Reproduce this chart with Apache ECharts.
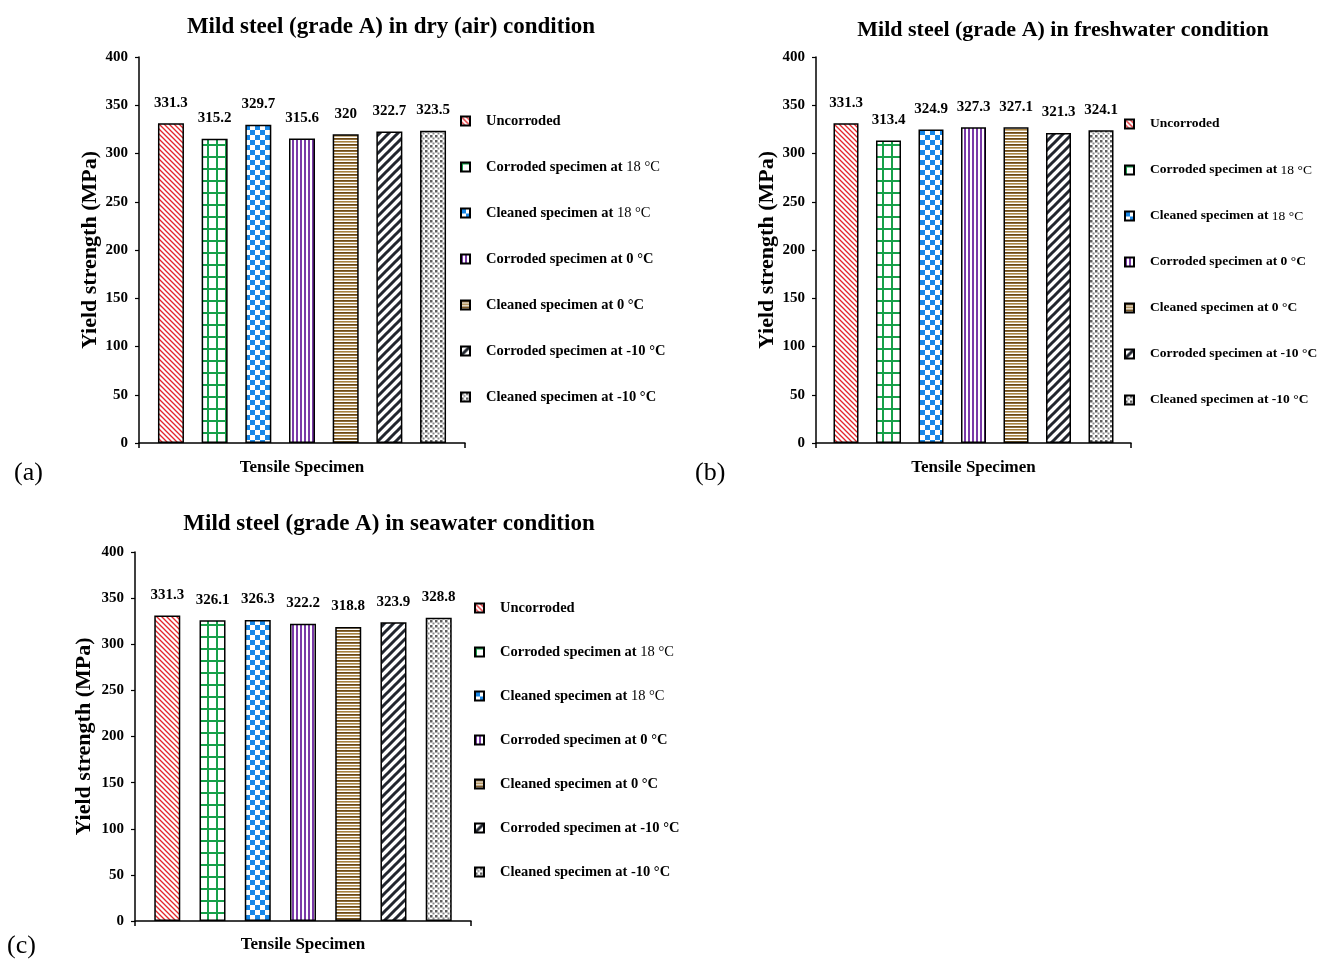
<!DOCTYPE html>
<html>
<head>
<meta charset="utf-8">
<script src="https://cdn.jsdelivr.net/npm/echarts@6/dist/echarts.min.js"></script>
<style>
html,body{margin:0;padding:0;background:#fff;}
#chart{width:1324px;height:965px;}
</style>
</head>
<body>
<div id="chart"></div>
<script>
// ---------------- data ----------------
const seriesNames = [
  'Uncorroded',
  'Corroded specimen at 18 °C',
  'Cleaned specimen at 18 °C',
  'Corroded specimen at 0 °C',
  'Cleaned specimen at 0 °C',
  'Corroded specimen at -10 °C',
  'Cleaned specimen at -10 °C'
];
const categories = ['Tensile Specimen'];
const dryValues = [331.3, 315.2, 329.7, 315.6, 320, 322.7, 323.5];
const freshValues = [331.3, 313.4, 324.9, 327.3, 327.1, 321.3, 324.1];
const seaValues = [331.3, 326.1, 326.3, 322.2, 318.8, 323.9, 328.8];
const titles = [
  'Mild steel (grade A) in dry (air) condition',
  'Mild steel (grade A) in freshwater condition',
  'Mild steel (grade A) in seawater condition'
];
const panelLabels = ['(a)', '(b)', '(c)'];
const yTicks = [0, 50, 100, 150, 200, 250, 300, 350, 400];
const yName = 'Yield strength (MPa)';
const xName = 'Tensile Specimen';

// ---------------- patterns ----------------
function mk(w, h, draw) {
  const c = document.createElement('canvas');
  c.width = w; c.height = h;
  const g = c.getContext('2d');
  g.fillStyle = '#fff'; g.fillRect(0, 0, w, h);
  draw(g, w, h);
  return { image: c, repeat: 'repeat' };
}
const patterns = [
  mk(5, 5, (g, w, h) => { // red "\" lines
    g.strokeStyle = '#e3262b'; g.lineWidth = 1.3;
    g.beginPath();
    g.moveTo(-1, -1); g.lineTo(w + 1, h + 1);
    g.moveTo(-1, h - 1); g.lineTo(1, h + 1);
    g.moveTo(w - 1, -1); g.lineTo(w + 1, 1);
    g.stroke();
  }),
  mk(9, 12, (g, w, h) => { // green grid
    g.fillStyle = '#17a04a';
    g.fillRect(0, 0, 2, h);
    g.fillRect(0, 0, w, 2);
  }),
  mk(10, 10, (g) => { // blue checker
    g.fillStyle = '#1787e8';
    g.fillRect(0, 0, 5, 5);
    g.fillRect(5, 5, 5, 5);
  }),
  mk(4, 4, (g, w, h) => { // purple vertical stripes
    g.fillStyle = '#7a3aa8';
    g.fillRect(0, 0, 2, h);
  }),
  mk(4, 6, (g, w) => { // brown horizontal stripes
    g.fillStyle = '#6f4a12';
    g.fillRect(0, 0, w, 1.8);
    g.fillStyle = '#a8823f';
    g.fillRect(0, 3, w, 1.6);
  }),
  mk(9, 9, (g, w, h) => { // dark "/" thick lines
    g.strokeStyle = '#22262f'; g.lineWidth = 3;
    g.beginPath();
    g.moveTo(-1, h + 1); g.lineTo(w + 1, -1);
    g.moveTo(-3, 3); g.lineTo(3, -3);
    g.moveTo(w - 3, h + 3); g.lineTo(w + 3, h - 3);
    g.stroke();
  }),
  mk(5, 5, (g) => { // grey dots
    g.fillStyle = '#5e5e5e';
    g.fillRect(0, 0, 2.5, 2.5);
    g.fillStyle = '#8a8a8a';
    g.fillRect(2.5, 2.5, 2, 2);
  })
];

// ---------------- layout ----------------
const SERIF = 'Liberation Serif';
const panels = [
  { values: dryValues, grid: { left: 139, top: 57, width: 326, height: 386 },
    barWidth: 26, barGap: '68%', titleX: 386, titleY: 11, titleSize: 23,
    legend: { left: 460, top: 113, gap: 30, size: 14.5 }, yGap: 38, xGap: 16,
    lab: { left: 14, top: 460 } },
  { values: freshValues, grid: { left: 816, top: 57, width: 315, height: 386 },
    barWidth: 25, barGap: '70%', titleX: 1058, titleY: 14, titleSize: 22,
    legend: { left: 1124, top: 116, gap: 30, size: 13.5 }, yGap: 37, xGap: 16,
    lab: { left: 695, top: 460 } },
  { values: seaValues, grid: { left: 135, top: 552, width: 336, height: 369 },
    barWidth: 26, barGap: '74%', titleX: 384, titleY: 508, titleSize: 23,
    legend: { left: 474, top: 600, gap: 28, size: 14.5 }, yGap: 40, xGap: 15,
    lab: { left: 7, top: 933 } }
];

const option = {
  backgroundColor: '#fff',
  animation: false,
  title: [], grid: [], xAxis: [], yAxis: [], legend: [], series: [], graphic: []
};

panels.forEach((p, gi) => {
  option.title.push({
    text: titles[gi], left: p.titleX, top: p.titleY, textAlign: 'center',
    textStyle: { fontFamily: SERIF, fontWeight: 'bold', fontSize: p.titleSize, color: '#000' }
  });
  option.grid.push(Object.assign({ containLabel: false }, p.grid));
  option.xAxis.push({
    type: 'category', gridIndex: gi, data: categories,
    name: xName, nameLocation: 'middle', nameGap: p.xGap,
    nameTextStyle: { fontFamily: SERIF, fontWeight: 'bold', fontSize: 17, color: '#000' },
    axisLine: { lineStyle: { color: '#000', width: 1.5 } },
    axisTick: { show: true, length: 5, lineStyle: { color: '#000', width: 1.5 } },
    axisLabel: { show: false }
  });
  option.yAxis.push({
    type: 'value', gridIndex: gi, min: yTicks[0], max: yTicks[yTicks.length - 1],
    interval: yTicks[1] - yTicks[0],
    name: yName, nameLocation: 'middle', nameGap: p.yGap,
    nameTextStyle: { fontFamily: SERIF, fontWeight: 'bold', fontSize: 22, color: '#000' },
    axisLine: { show: true, lineStyle: { color: '#000', width: 1.5 } },
    axisTick: { show: true, length: 4, lineStyle: { color: '#000', width: 1.2 } },
    axisLabel: { margin: 11, fontFamily: SERIF, fontWeight: 'bold', fontSize: 15, color: '#000' },
    splitLine: { show: false }
  });
  option.legend.push({
    orient: 'vertical', left: p.legend.left, top: p.legend.top, padding: 0,
    icon: 'rect',
    itemWidth: 9, itemHeight: 9, itemGap: p.legend.gap,
    data: seriesNames,
    formatter: n => n.indexOf('18 °C') >= 0 ? n.replace('18 °C', '{r|18 °C}') : n,
    textStyle: {
      fontFamily: SERIF, fontWeight: 'bold', fontSize: p.legend.size, color: '#000',
      lineHeight: 16, padding: [0, 0, 0, 11],
      rich: { r: { fontFamily: SERIF, fontWeight: 'normal', fontSize: p.legend.size, color: '#000', lineHeight: 16 } }
    }
  });
  seriesNames.forEach((nm, si) => {
    option.series.push({
      type: 'bar', name: nm, xAxisIndex: gi, yAxisIndex: gi,
      data: [p.values[si]],
      barWidth: p.barWidth, barGap: p.barGap,
      itemStyle: { color: patterns[si], borderColor: '#000', borderWidth: 1.5 },
      label: {
        show: true, position: 'top', distance: 13, formatter: '{c}',
        fontFamily: SERIF, fontWeight: 'bold', fontSize: 15, color: '#000'
      }
    });
  });
  option.graphic.push({
    type: 'text', left: p.lab.left, top: p.lab.top,
    style: { text: panelLabels[gi], font: '26px "Liberation Serif"', fill: '#000' }
  });
});

const chart = echarts.init(document.getElementById('chart'), null, { renderer: 'canvas' });
chart.setOption(option);
</script>
</body>
</html>
